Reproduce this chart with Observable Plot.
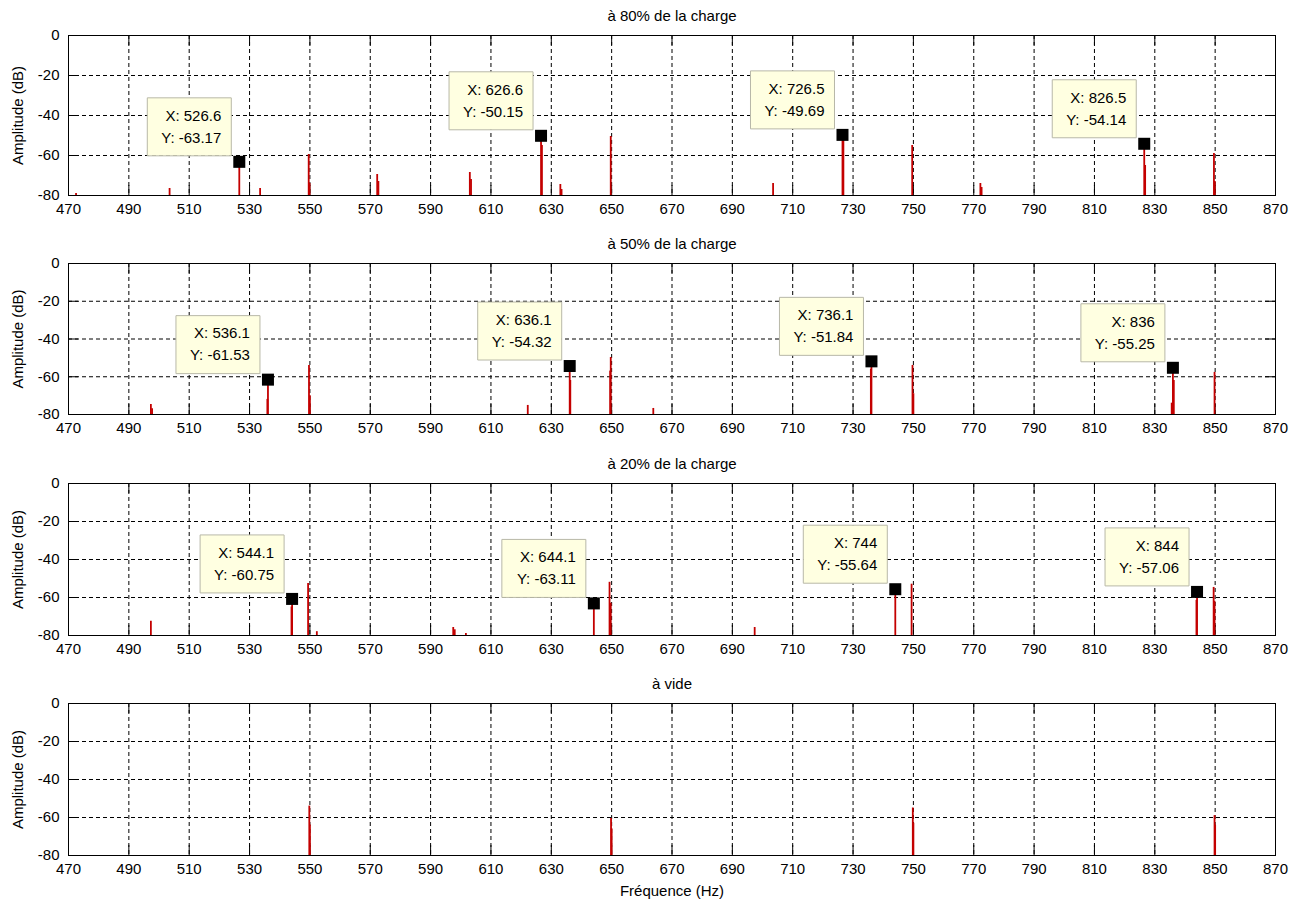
<!DOCTYPE html>
<html>
<head>
<meta charset="utf-8">
<script src="https://cdn.jsdelivr.net/npm/d3@7"></script>
<script src="https://cdn.jsdelivr.net/npm/@observablehq/plot@0.6"></script>
<style>
  html, body { margin: 0; padding: 0; background: #fff; overflow: hidden; }
  .panel { position: absolute; left: 0; }
</style>
</head>
<body>
<div id="p0" class="panel" style="top:0px"></div>
<div id="p1" class="panel" style="top:228px"></div>
<div id="p2" class="panel" style="top:448px"></div>
<div id="p3" class="panel" style="top:668px"></div>
<script>
// ---------- data ----------
const xTicks = [470, 490, 510, 530, 550, 570, 590, 610, 630, 650, 670, 690, 710, 730, 750, 770, 790, 810, 830, 850, 870];
const yTicks = [0, -20, -40, -60, -80];
const panelTitles = ["à 80% de la charge", "à 50% de la charge", "à 20% de la charge", "à vide"];
const yLabel = "Amplitude (dB)";
const xLabel = "Fréquence (Hz)";

// à 80% de la charge
const freq80 = [472.5, 503.5, 526.6, 533.5, 549.6, 549.9, 572.3, 572.7, 603.0, 603.4, 626.6, 626.9, 633.0, 633.4, 649.7, 703.5, 726.5, 726.8, 749.6, 772.2, 772.6, 826.5, 826.8, 849.6, 849.9];
const amp80  = [-79, -76.5, -63.17, -76.5, -59.5, -74, -69.5, -73, -68.5, -72, -50.15, -55, -74.5, -77, -50.5, -74, -49.69, -52, -55, -74, -76, -54.14, -65, -59, -73];
const tipX80 = [526.6, 626.6, 726.5, 826.5];
const tipY80 = [-63.17, -50.15, -49.69, -54.14];

// à 50% de la charge
const freq50 = [497.3, 497.7, 536.1, 535.9, 549.7, 550.0, 622.2, 636.1, 636.3, 649.7, 649.5, 663.8, 736.1, 735.9, 749.7, 750.0, 836.0, 836.3, 835.6, 849.8];
const amp50  = [-74.7, -77, -61.53, -72, -54, -70, -75.2, -54.32, -62, -49.8, -57, -76.8, -51.84, -56, -54, -69, -55.25, -62, -74, -57.7];
const tipX50 = [536.1, 636.1, 736.1, 836];
const tipY50 = [-61.53, -54.32, -51.84, -55.25];

// à 20% de la charge
const freq20 = [497.3, 544.1, 543.9, 549.4, 552.3, 597.5, 598.0, 601.7, 644.1, 649.3, 649.7, 697.4, 744.0, 749.4, 844.0, 843.8, 849.5, 849.8];
const amp20  = [-72.5, -60.75, -65, -52.6, -78, -75.8, -77, -79, -63.11, -52, -63, -75.8, -55.64, -53, -57.06, -61.5, -54.7, -62];
const tipX20 = [544.1, 644.1, 744, 844];
const tipY20 = [-60.75, -63.11, -55.64, -57.06];

// à vide
const freq0 = [549.8, 550.0, 649.8, 650.0, 749.8, 750.0, 849.8, 850.0];
const amp0  = [-54, -64, -60.5, -66, -55, -63, -59, -64];
const tipX0 = [];
const tipY0 = [];

// ---------- drawing ----------
const FONT = "'Liberation Sans', Arial, Helvetica, sans-serif";
const boxSymbol = { draw(ctx) { ctx.rect(-92, -64, 84, 58); } };
const squareSymbol = { draw(ctx) { ctx.rect(-6, -6, 12, 12); } };
const fmt = d => `${d}`;

function drawPanel(el, cfg) {
  const W = 1298, mL = 68, mR = 23, mT = 35;
  const innerH = cfg.innerH, innerW = W - mL - mR;
  const spikes = cfg.freqs.map((f, i) => ({ f, a: cfg.amps[i] }));
  const tips = cfg.tipXs.map((x, i) => ({ x, y: cfg.tipYs[i] }));
  const plot = Plot.plot({
    width: W,
    height: mT + innerH + cfg.mB,
    marginLeft: mL, marginRight: mR, marginTop: mT, marginBottom: cfg.mB,
    style: { fontFamily: FONT, fontSize: "15px", color: "black", background: "white" },
    x: { domain: [470, 870], label: null },
    y: { domain: [-80, 0], label: null },
    marks: [
      Plot.gridX(xTicks, { stroke: "black", strokeOpacity: 1, strokeWidth: 1, strokeDasharray: "4,3" }),
      Plot.gridY(yTicks, { stroke: "black", strokeOpacity: 1, strokeWidth: 1, strokeDasharray: "4,3" }),
      // inward tick marks (all four sides); y1 is the top end, x1 the left end
      Plot.ruleX(xTicks, { x: d => d, y1: 0, y2: -80, insetTop: innerH - 10, stroke: "black" }),
      Plot.ruleX(xTicks, { x: d => d, y1: 0, y2: -80, insetBottom: innerH - 10, stroke: "black" }),
      Plot.ruleY(yTicks, { y: d => d, x1: 470, x2: 870, insetRight: innerW - 10, stroke: "black" }),
      Plot.ruleY(yTicks, { y: d => d, x1: 470, x2: 870, insetLeft: innerW - 10, stroke: "black" }),
      // spectrum
      Plot.ruleX(spikes, { x: "f", y1: -80, y2: "a", stroke: "#c40000", strokeWidth: 1.8 }),
      Plot.frame({ stroke: "black", strokeWidth: 1 }),
      Plot.axisX(xTicks, { tickSize: 0, tickPadding: 8, tickFormat: fmt,
        label: cfg.xLabel, labelAnchor: "center", labelOffset: 40, labelArrow: "none" }),
      Plot.axisY(yTicks, { tickSize: 0, tickPadding: 9, tickFormat: fmt,
        label: yLabel, labelAnchor: "center", labelOffset: 56, labelArrow: "none" }),
      Plot.text([cfg.title], { frameAnchor: "top", dy: -19, lineAnchor: "middle", fontSize: 15 }),
      // data tips
      Plot.dot(tips, { x: "x", y: "y", symbol: boxSymbol, fill: "#ffffe1", stroke: "#b8b8a8", strokeWidth: 1 }),
      Plot.text(tips, { x: "x", y: "y", text: d => `X: ${d.x}`, dx: -18, dy: -46, textAnchor: "end", lineAnchor: "middle", fontSize: 15 }),
      Plot.text(tips, { x: "x", y: "y", text: d => `Y: ${d.y}`, dx: -18, dy: -24, textAnchor: "end", lineAnchor: "middle", fontSize: 15 }),
      Plot.dot(tips, { x: "x", y: "y", symbol: squareSymbol, fill: "black", stroke: "none" })
    ]
  });
  document.getElementById(el).appendChild(plot);
}

drawPanel("p0", { title: panelTitles[0], freqs: freq80, amps: amp80, tipXs: tipX80, tipYs: tipY80, innerH: 160, mB: 30, xLabel: null });
drawPanel("p1", { title: panelTitles[1], freqs: freq50, amps: amp50, tipXs: tipX50, tipYs: tipY50, innerH: 151, mB: 30, xLabel: null });
drawPanel("p2", { title: panelTitles[2], freqs: freq20, amps: amp20, tipXs: tipX20, tipYs: tipY20, innerH: 152, mB: 30, xLabel: null });
drawPanel("p3", { title: panelTitles[3], freqs: freq0, amps: amp0, tipXs: tipX0, tipYs: tipY0, innerH: 152, mB: 49, xLabel: xLabel });
</script>
</body>
</html>
